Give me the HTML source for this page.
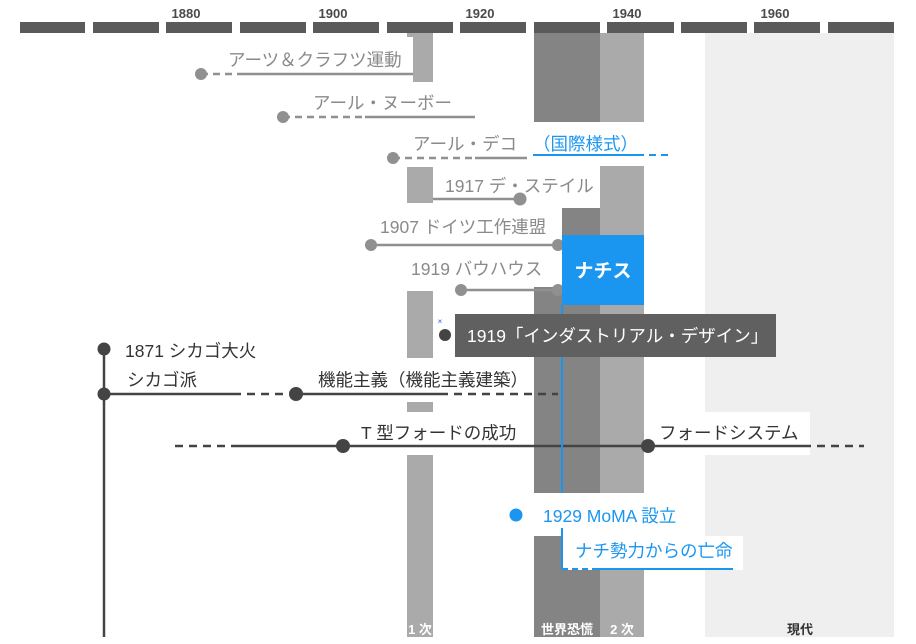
<!DOCTYPE html>
<html><head><meta charset="utf-8"><style>
body{margin:0;background:#fff}
svg{display:block;font-family:"Liberation Sans","Noto Sans CJK JP",sans-serif}
</style></head><body>
<svg width="916" height="644" viewBox="0 0 916 644">
<rect x="705" y="33" width="189" height="604" fill="#efefef"/>
<rect x="534" y="22" width="66" height="615" fill="#848484"/>
<rect x="600" y="33" width="44" height="604" fill="#aaaaaa"/>
<rect x="407" y="33" width="26" height="4" fill="#aaa"/>
<rect x="413" y="33" width="20" height="49" fill="#aaa"/>
<rect x="407" y="167" width="26" height="36" fill="#aaa"/>
<rect x="407" y="291" width="26" height="67" fill="#aaa"/>
<rect x="407" y="402" width="26" height="10" fill="#aaa"/>
<rect x="407" y="455" width="26" height="182" fill="#aaa"/>
<g fill="#fff">
<rect x="534" y="122" width="110" height="44"/>
<rect x="534" y="166" width="66" height="42"/>
<rect x="534" y="208" width="28" height="79"/>
<rect x="505" y="493" width="200" height="43"/>
<rect x="563" y="536" width="180" height="34"/>
<rect x="644" y="412" width="166" height="43"/>
</g>
<g fill="#5a5a5a">
<rect x="20" y="22" width="65" height="11"/><rect x="93" y="22" width="66" height="11"/>
<rect x="166" y="22" width="66" height="11"/><rect x="240" y="22" width="66" height="11"/>
<rect x="313" y="22" width="66" height="11"/><rect x="387" y="22" width="66" height="11"/>
<rect x="460" y="22" width="66" height="11"/><rect x="534" y="22" width="66" height="11"/>
<rect x="607" y="22" width="67" height="11"/><rect x="681" y="22" width="66" height="11"/>
<rect x="754" y="22" width="66" height="11"/><rect x="828" y="22" width="66" height="11"/>
</g>
<g fill="#4a4a4a" font-size="13" font-weight="bold" text-anchor="middle">
<text x="186" y="18">1880</text><text x="333" y="18">1900</text><text x="480" y="18">1920</text><text x="627" y="18">1940</text><text x="775" y="18">1960</text>
</g>
<g stroke="#909090" stroke-width="2.5" fill="none">
<line x1="201" y1="74" x2="240" y2="74" stroke-dasharray="7,5"/><line x1="240" y1="74" x2="413" y2="74"/>
<line x1="283" y1="117" x2="365" y2="117" stroke-dasharray="7,5"/><line x1="365" y1="117" x2="475" y2="117"/>
<line x1="393" y1="158" x2="475" y2="158" stroke-dasharray="7,5"/><line x1="475" y1="158" x2="527" y2="158"/>
<line x1="433" y1="199" x2="520" y2="199"/>
<line x1="371" y1="245" x2="558" y2="245"/>
<line x1="461" y1="290" x2="558" y2="290"/>
</g>
<g stroke="#1a96f0" stroke-width="2" fill="none">
<line x1="533" y1="155" x2="637" y2="155"/><line x1="637" y1="155" x2="668" y2="155" stroke-dasharray="7,5"/>
<line x1="562" y1="305" x2="562" y2="493"/>
<line x1="562" y1="528" x2="562" y2="569"/>
<line x1="562" y1="569" x2="598" y2="569" stroke-dasharray="6,4"/><line x1="598" y1="569" x2="733" y2="569"/>
</g>
<g fill="#909090">
<circle cx="201" cy="74" r="6"/><circle cx="283" cy="117" r="6"/><circle cx="393" cy="158" r="6"/>
<circle cx="520" cy="199" r="6.5"/><circle cx="371" cy="245" r="6"/><circle cx="558" cy="245" r="6"/>
<circle cx="461" cy="290" r="6"/><circle cx="558" cy="290" r="6"/>
</g>
<g fill="#8a8a8a" font-size="17.5">
<text x="228" y="66">アーツ＆クラフツ運動</text>
<text x="313" y="109">アール・ヌーボー</text>
<text x="413" y="150">アール・デコ</text>
<text x="445" y="192">1917 デ・ステイル</text>
<text x="380" y="233">1907 ドイツ工作連盟</text>
<text x="411" y="275">1919 バウハウス</text>
</g>
<text x="533" y="150" font-size="17.5" fill="#1a96f0">（国際様式）</text>
<rect x="562" y="235" width="82" height="70" fill="#1a96f0"/>
<text x="603" y="277" font-size="19" font-weight="bold" fill="#fff" text-anchor="middle">ナチス</text>
<text x="440" y="324" font-size="8" fill="#3355dd" text-anchor="middle">×</text>
<circle cx="445" cy="335" r="6" fill="#444"/>
<rect x="455" y="314" width="321" height="43" fill="#606060"/>
<text x="467" y="342" font-size="17.5" fill="#fff">1919「インダストリアル・デザイン」</text>
<g stroke="#444" stroke-width="2.5" fill="none">
<line x1="104" y1="349" x2="104" y2="637"/>
<line x1="104" y1="394" x2="233" y2="394"/><line x1="233" y1="394" x2="296" y2="394" stroke-dasharray="8,6"/>
<line x1="296" y1="394" x2="440" y2="394"/><line x1="440" y1="394" x2="558" y2="394" stroke-dasharray="8,6"/>
<line x1="175" y1="446" x2="233" y2="446" stroke-dasharray="8,6"/><line x1="233" y1="446" x2="803" y2="446"/>
<line x1="803" y1="446" x2="864" y2="446" stroke-dasharray="8,6"/>
</g>
<line x1="562" y1="357" x2="562" y2="493" stroke="#1a96f0" stroke-width="2"/>
<g fill="#444">
<circle cx="104" cy="349" r="6.5"/><circle cx="104" cy="394" r="6.5"/><circle cx="296" cy="394" r="7"/>
<circle cx="343" cy="446" r="7"/><circle cx="648" cy="446" r="7"/>
</g>
<g fill="#333" font-size="17.5">
<text x="125" y="357">1871 シカゴ大火</text>
<text x="127" y="386">シカゴ派</text>
<text x="318" y="386">機能主義（機能主義建築）</text>
<text x="361" y="439">T 型フォードの成功</text>
<text x="659" y="439">フォードシステム</text>
</g>
<circle cx="516" cy="515" r="6.5" fill="#1a96f0"/>
<g fill="#1a96f0" font-size="17.5">
<text x="543" y="522">1929 MoMA 設立</text>
<text x="575" y="557">ナチ勢力からの亡命</text>
</g>
<g font-size="13" font-weight="bold" text-anchor="middle">
<text x="420" y="634" fill="#fff">1 次</text>
<text x="567" y="634" fill="#fff">世界恐慌</text>
<text x="622" y="634" fill="#fff">2 次</text>
<text x="800" y="634" fill="#333">現代</text>
</g>
</svg>
</body></html>
